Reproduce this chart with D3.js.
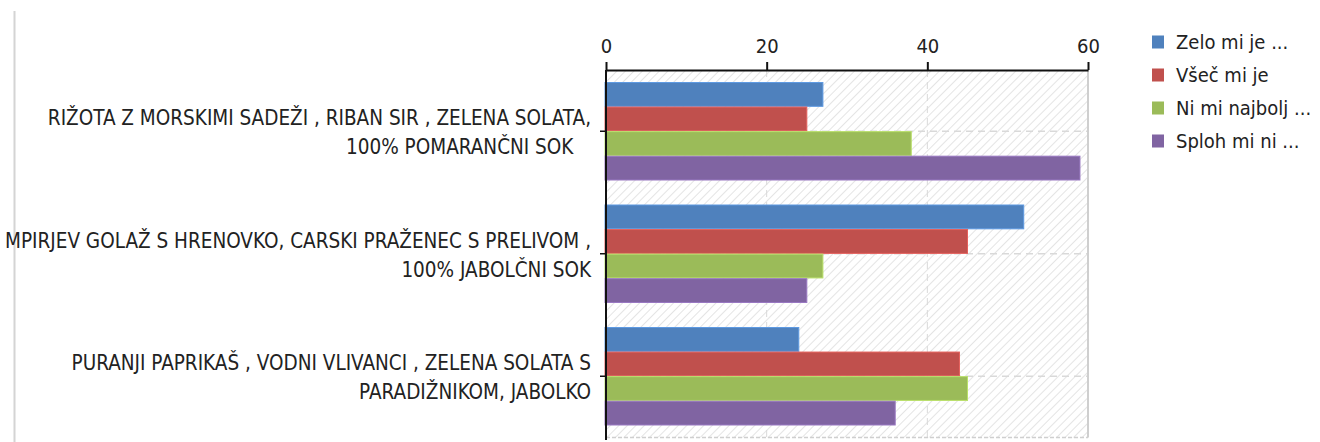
<!DOCTYPE html>
<html>
<head>
<meta charset="utf-8">
<script src="https://cdn.jsdelivr.net/npm/d3@7"></script>
<style>
    body { margin: 0; background: #fff; }
    text { font-family: "DejaVu Sans Condensed", "DejaVu Sans", sans-serif; fill: #222; }
</style>
</head>
<body>
<svg id="mySVG" width="1320" height="442"></svg>
<script>
let categories = [
    ["RIŽOTA Z MORSKIMI SADEŽI , RIBAN SIR , ZELENA SOLATA,", "100% POMARANČNI SOK   "],
    ["MPIRJEV GOLAŽ S HRENOVKO, CARSKI PRAŽENEC S PRELIVOM ,", "100% JABOLČNI SOK"],
    ["PURANJI PAPRIKAŠ , VODNI VLIVANCI , ZELENA SOLATA S", "PARADIŽNIKOM, JABOLKO"]
];
let seriesNames = ["Zelo mi je ...", "Všeč mi je", "Ni mi najbolj ...", "Sploh mi ni ..."];
let seriesColors = ["#4f81bd", "#c0504d", "#9bbb59", "#8064a2"];
let zeloMiJe = [27, 52, 24];
let vsecMiJe = [25, 45, 44];
let niMiNajbolj = [38, 27, 45];
let splohMiNi = [59, 25, 36];
let xTicks = [0, 20, 40, 60];

let series = [zeloMiJe, vsecMiJe, niMiNajbolj, splohMiNi];

let svg = d3.select("#mySVG");
let pLeft = 606, pRight = 1088, pTop = 70, pBottom = 437.5;

let x = d3.scaleLinear().domain([0, 60]).range([pLeft, pRight]);
let y0 = d3.scaleBand().domain(d3.range(categories.length)).range([pTop, pBottom]);
let y1 = d3.scaleBand().domain(d3.range(series.length))
    .range([12.5, y0.bandwidth() - 12.5]).paddingInner(0.03);

// hatch pattern for plot area
let defs = svg.append("defs");
let pat = defs.append("pattern")
    .attr("id", "hatch")
    .attr("patternUnits", "userSpaceOnUse")
    .attr("width", 6).attr("height", 10)
    .attr("patternTransform", "rotate(45)");
pat.append("rect").attr("width", 6).attr("height", 10).style("fill", "#fff");
pat.append("line").attr("x1", 0).attr("y1", 0).attr("x2", 0).attr("y2", 10)
    .style("stroke", "#e4e4e4").style("stroke-width", 2);

// left frame line
svg.append("line")
    .attr("x1", 14.5).attr("x2", 14.5).attr("y1", 11).attr("y2", 442)
    .style("stroke", "#d4d4d4").style("stroke-width", 2);

svg.append("rect")
    .attr("x", pLeft).attr("y", pTop)
    .attr("width", pRight - pLeft).attr("height", pBottom - pTop)
    .style("fill", "url(#hatch)");

// grid
svg.selectAll(".vgrid")
    .data(xTicks.slice(1, -1))
    .join("line")
    .classed("vgrid", true)
    .attr("x1", d => x(d)).attr("x2", d => x(d))
    .attr("y1", pTop).attr("y2", pBottom)
    .style("stroke", "#d9d9d9").style("stroke-dasharray", "7,5");

svg.selectAll(".hgrid")
    .data(d3.range(categories.length))
    .join("line")
    .classed("hgrid", true)
    .attr("x1", pLeft).attr("x2", pRight)
    .attr("y1", d => y0(d) + y0.bandwidth() / 2)
    .attr("y2", d => y0(d) + y0.bandwidth() / 2)
    .style("stroke", "#d9d9d9").style("stroke-width", 1.5).style("stroke-dasharray", "7,5");

svg.append("line")
    .attr("x1", pRight).attr("x2", pRight).attr("y1", pTop).attr("y2", pBottom)
    .style("stroke", "#cfcfcf").style("stroke-width", 2);
svg.append("line")
    .attr("x1", pLeft).attr("x2", pRight).attr("y1", pBottom).attr("y2", pBottom)
    .style("stroke", "#cfcfcf").style("stroke-width", 1.5).style("stroke-dasharray", "4,2");

// bars
let groups = svg.selectAll(".group")
    .data(d3.range(categories.length))
    .join("g")
    .classed("group", true)
    .attr("transform", d => `translate(0,${y0(d)})`);

groups.selectAll("rect")
    .data(c => series.map((s, i) => ({ i: i, v: s[c] })))
    .join("rect")
    .attr("x", x(0) - 1)
    .attr("y", d => y1(d.i))
    .attr("width", d => x(d.v) - x(0) + 1)
    .attr("height", y1.bandwidth())
    .style("fill", d => seriesColors[d.i])
    .style("stroke", d => d3.color(seriesColors[d.i]).brighter(0.5))
    .style("stroke-width", 1);

// top axis
let xAxis = d3.axisTop(x).tickValues(xTicks).tickSize(8).tickSizeOuter(0);
let gx = svg.append("g").attr("transform", `translate(0,${pTop})`).call(xAxis);
gx.select(".domain").style("stroke", "#111").style("stroke-width", 2);
gx.selectAll(".tick line").style("stroke", "#111").style("stroke-width", 2);
gx.selectAll(".tick text")
    .attr("y", -17)
    .style("font-size", "20px")
    .style("font-family", "'DejaVu Sans Condensed', 'DejaVu Sans', sans-serif")
    .style("fill", "#222");

// left axis
svg.append("line")
    .attr("x1", pLeft).attr("x2", pLeft).attr("y1", pTop).attr("y2", 440)
    .style("stroke", "#111").style("stroke-width", 2);
svg.selectAll(".ytick")
    .data(d3.range(categories.length))
    .join("line")
    .classed("ytick", true)
    .attr("x1", pLeft - 6).attr("x2", pLeft)
    .attr("y1", d => y0(d) + y0.bandwidth() / 2)
    .attr("y2", d => y0(d) + y0.bandwidth() / 2)
    .style("stroke", "#111").style("stroke-width", 1.5);

// category labels
svg.selectAll(".label")
    .data(d3.range(categories.length))
    .join("text")
    .classed("label", true)
    .attr("text-anchor", "end")
    .style("font-size", "20.5px")
    .each(function(d) {
        let cy = y0(d) + y0.bandwidth() / 2;
        d3.select(this).selectAll("tspan")
            .data(categories[d])
            .join("tspan")
            .attr("x", 591)
            .attr("y", (t, i) => cy - 6 + i * 29)
            .style("white-space", "pre")
            .text(t => t);
    });

// legend
let legend = svg.selectAll(".legend")
    .data(seriesNames)
    .join("g")
    .classed("legend", true)
    .attr("transform", (d, i) => `translate(1152,${42 + i * 33})`);
legend.append("rect")
    .attr("x", 0).attr("y", -6.5).attr("width", 12).attr("height", 13)
    .style("fill", (d, i) => seriesColors[i]);
legend.append("text")
    .attr("x", 24).attr("y", 7)
    .style("font-size", "20px")
    .text(d => d);
</script>
</body>
</html>
